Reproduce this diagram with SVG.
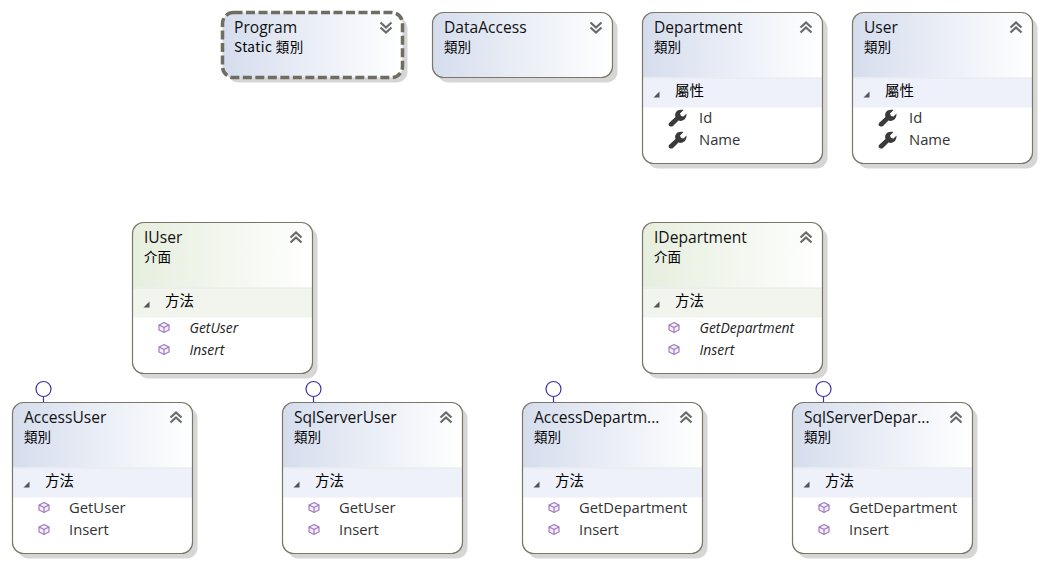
<svg xmlns="http://www.w3.org/2000/svg" width="1044" height="564" viewBox="0 0 1044 564">
<style>
text{font-family:"Open Sans","Noto Sans","Noto Sans CJK TC",sans-serif;fill:#000}
.t{font-size:15.600px;fill:#111}
.s{font-size:13.500px;font-family:"Noto Sans CJK TC","Open Sans",sans-serif}
.h{font-size:14.500px;font-family:"Noto Sans CJK TC","Open Sans",sans-serif}
.i{font-size:14.800px;fill:#333}
.a{font-size:13.900px;font-style:italic;fill:#222}
.lol{fill:#fff;stroke:#3c32a8;stroke-width:1.200}
.ln{stroke:#3c32a8;stroke-width:1.200;fill:none}
.edge{fill:none;stroke:#7a7768;stroke-width:1.200}
.sh{fill:#d6d6d6}
.chev{fill:none;stroke:#6a6a6a;stroke-width:2.200}
.cube{fill:#f4eef9;stroke:#9a72c0;stroke-width:1.100}
</style>
<defs>
<linearGradient id="gc" x1="0" x2="1" y1="0" y2="0"><stop offset="0" stop-color="#d5dded"/><stop offset="1" stop-color="#fff"/></linearGradient>
<linearGradient id="gi" x1="0" x2="1" y1="0" y2="0"><stop offset="0" stop-color="#e6eedd"/><stop offset="1" stop-color="#fff"/></linearGradient>
<clipPath id="cb"><rect x="0" y="0" width="180" height="151" rx="11"/></clipPath>
<g id="up"><path class="chev" d="M0 6 5.500 1 11 6M0 11 5.500 6 11 11"/></g>
<g id="down"><path class="chev" d="M0 1 5.500 6 11 1M0 6 5.500 11 11 6"/></g>
<path id="tri" d="M0 6 6 6 6 0Z" fill="#555"/>
<g id="key"><path d="M.5 13.500 7 7.500C5.500 3 9 -1 15 .5L11.500 4 12.500 6.500 15 7 18 4C18.500 9.500 14 12.500 10 11L4.500 16.500C2 18 -1 16 .5 13.500Z" fill="#3a3a3a"/></g>
<g id="cube"><path class="cube" d="M5 0 10 2.500V7.500L5 10 0 7.500V2.500Z"/><path class="cube" fill="none" d="M0 2.500 5 5 10 2.500M5 5V10"/></g>
<g id="classbox">
<rect class="sh" x="5" y="5" width="180" height="151" rx="11"/>
<rect width="180" height="151" rx="11" fill="#fff"/>
<rect width="180" height="65" fill="url(#gc)" clip-path="url(#cb)"/>
<rect y="65" width="180" height="1.500" fill="#e4e6ea"/>
<rect y="66" width="180" height="29" fill="#eef1f9"/>
<rect width="180" height="151" rx="11" class="edge"/>
<use href="#up" x="158" y="9"/>
<use href="#tri" x="11" y="79"/>
</g>
<g id="ifacebox">
<rect class="sh" x="5" y="5" width="180" height="151" rx="11"/>
<rect width="180" height="151" rx="11" fill="#fff"/>
<rect width="180" height="65" fill="url(#gi)" clip-path="url(#cb)"/>
<rect y="65" width="180" height="1.500" fill="#e4e6ea"/>
<rect y="66" width="180" height="29" fill="#f1f5ee"/>
<rect width="180" height="151" rx="11" class="edge"/>
<use href="#up" x="158" y="9"/>
<use href="#tri" x="11" y="79"/>
</g>
</defs>
<rect width="1044" height="564" fill="#fff"/>
<g id="connectors">
<path class="ln" d="M43.500 397V402M313.500 397V402M553.500 397V402M823.500 397V402"/>
<circle class="lol" cx="43.500" cy="389" r="7.500"/>
<circle class="lol" cx="313.500" cy="389" r="7.500"/>
<circle class="lol" cx="553.500" cy="389" r="7.500"/>
<circle class="lol" cx="823.500" cy="389" r="7.500"/>
</g>
<g id="program" transform="translate(222.500,12.500)">
<rect class="sh" x="5" y="5" width="180" height="65" rx="11"/>
<rect width="180" height="65" rx="11" fill="url(#gc)"/>
<rect width="180" height="65" rx="11" fill="none" stroke="#6f6d62" stroke-width="3.500" stroke-dasharray="9 3.500"/>
<use href="#down" x="158" y="9"/>
<text class="t" x="11.500" y="20">Program</text>
<text class="s" x="11.500" y="39" letter-spacing=".45">Static 類別</text>
</g>
<g id="dataaccess" transform="translate(432.500,12.500)">
<rect class="sh" x="5" y="5" width="180" height="65" rx="11"/>
<rect width="180" height="65" rx="11" fill="url(#gc)"/>
<rect width="180" height="65" rx="11" class="edge"/>
<use href="#down" x="158" y="9"/>
<text class="t" x="11.500" y="20">DataAccess</text>
<text class="s" x="11.500" y="39">類別</text>
</g>
<g id="department" transform="translate(642.500,12.500)">
<use href="#classbox"/>
<text class="t" x="11.500" y="20">Department</text><text class="s" x="11.500" y="39">類別</text>
<text class="h" x="32.500" y="83">屬性</text>
<use href="#key" x="26" y="97"/><use href="#key" x="26" y="119"/>
<text class="i" x="56.500" y="110">Id</text><text class="i" x="56.500" y="132">Name</text>
</g>
<g id="user" transform="translate(852.500,12.500)">
<use href="#classbox"/>
<text class="t" x="11.500" y="20">User</text><text class="s" x="11.500" y="39">類別</text>
<text class="h" x="32.500" y="83">屬性</text>
<use href="#key" x="26" y="97"/><use href="#key" x="26" y="119"/>
<text class="i" x="56.500" y="110">Id</text><text class="i" x="56.500" y="132">Name</text>
</g>
<g id="iuser" transform="translate(132.500,222.500)">
<use href="#ifacebox"/>
<text class="t" x="11.500" y="20">IUser</text><text class="s" x="11.500" y="39">介面</text>
<text class="h" x="32.500" y="83">方法</text>
<use href="#cube" x="26.500" y="100"/><use href="#cube" x="26.500" y="122"/>
<text class="a" x="57" y="110">GetUser</text><text class="a" x="57" y="132">Insert</text>
</g>
<g id="idepartment" transform="translate(642.500,222.500)">
<use href="#ifacebox"/>
<text class="t" x="11.500" y="20">IDepartment</text><text class="s" x="11.500" y="39">介面</text>
<text class="h" x="32.500" y="83">方法</text>
<use href="#cube" x="26.500" y="100"/><use href="#cube" x="26.500" y="122"/>
<text class="a" x="57" y="110">GetDepartment</text><text class="a" x="57" y="132">Insert</text>
</g>
<g id="accessuser" transform="translate(12.500,402.500)">
<use href="#classbox"/>
<text class="t" x="11.500" y="20">AccessUser</text><text class="s" x="11.500" y="39">類別</text>
<text class="h" x="32.500" y="83">方法</text>
<use href="#cube" x="26.500" y="100"/><use href="#cube" x="26.500" y="122"/>
<text class="i" x="56.500" y="110">GetUser</text><text class="i" x="56.500" y="132">Insert</text>
</g>
<g id="sqlserveruser" transform="translate(282.500,402.500)">
<use href="#classbox"/>
<text class="t" x="11.500" y="20">SqlServerUser</text><text class="s" x="11.500" y="39">類別</text>
<text class="h" x="32.500" y="83">方法</text>
<use href="#cube" x="26.500" y="100"/><use href="#cube" x="26.500" y="122"/>
<text class="i" x="56.500" y="110">GetUser</text><text class="i" x="56.500" y="132">Insert</text>
</g>
<g id="accessdepartment" transform="translate(522.500,402.500)">
<use href="#classbox"/>
<text class="t" x="11.500" y="20">AccessDepartm...</text><text class="s" x="11.500" y="39">類別</text>
<text class="h" x="32.500" y="83">方法</text>
<use href="#cube" x="26.500" y="100"/><use href="#cube" x="26.500" y="122"/>
<text class="i" x="56.500" y="110">GetDepartment</text><text class="i" x="56.500" y="132">Insert</text>
</g>
<g id="sqlserverdepartment" transform="translate(792.500,402.500)">
<use href="#classbox"/>
<text class="t" x="11.500" y="20">SqlServerDepar...</text><text class="s" x="11.500" y="39">類別</text>
<text class="h" x="32.500" y="83">方法</text>
<use href="#cube" x="26.500" y="100"/><use href="#cube" x="26.500" y="122"/>
<text class="i" x="56.500" y="110">GetDepartment</text><text class="i" x="56.500" y="132">Insert</text>
</g>
</svg>
